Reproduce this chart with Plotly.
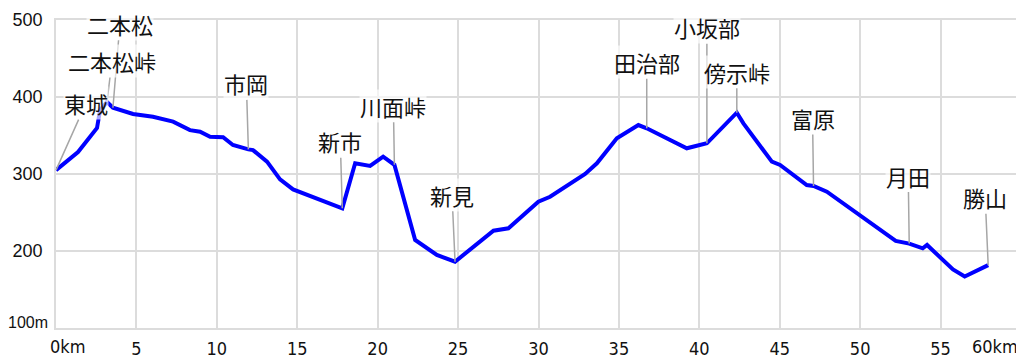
import plotly.graph_objects as go

# Elevation profile (distance km, elevation m)
dist_km = [0, 1.37, 2.55, 2.74, 3.17, 3.54, 4.79, 6.03, 7.28, 8.33, 8.96, 9.58,
           10.39, 11.0, 11.96, 12.25, 13.12, 13.93, 14.74, 15.98, 17.8, 18.6,
           19.53, 20.34, 21.04, 22.33, 23.68, 24.81, 27.2, 28.13, 29.99, 30.72,
           32.9, 33.63, 34.87, 36.21, 36.73, 39.22, 40.47, 42.33, 42.74, 44.51,
           45.02, 46.68, 47.1, 47.93, 52.21, 53.05, 53.89, 54.16, 55.77, 56.5,
           57.13, 57.96]
elev_m = [305, 328.6, 359.7, 383, 393.5, 386, 377.9, 374.4, 368, 357, 355, 348.4,
          347.7, 337.7, 332, 331, 316, 293, 280, 270.5, 255.5, 313.9,
          310.4, 322.5, 312, 214.3, 194.8, 186.1, 226.4, 229.5, 264, 270.5,
          300, 313.9, 346.4, 363.6, 359.4, 333.4, 339.9, 379.6, 365.8, 316,
          311.7, 285.7, 284.4, 277, 213, 209.6, 203.5, 207.8, 176, 166.8,
          172.9, 181.6]

# Place names and their points on the profile
place_names = ["二本松", "二本松峠", "東城", "市岡", "新市", "川面峠", "新見",
               "田治部", "小坂部", "傍示峠", "富原", "月田", "勝山"]
place_km = [3.54, 3.17, 0, 11.96, 17.8, 21.04, 24.81, 36.73, 40.47, 42.33,
            47.1, 53.05, 57.96]
place_elev = [386, 393.5, 305, 332, 255.5, 312, 186.1, 359.4, 339.9, 379.6,
              284.4, 209.6, 181.6]

x_tickvals = [5, 10, 15, 20, 25, 30, 35, 40, 45, 50, 55]
x_ticktext = ["5", "10", "15", "20", "25", "30", "35", "40", "45", "50", "55"]
y_tickvals = [200, 300, 400, 500]
y_ticktext = ["200", "300", "400", "500"]

# label offsets in pixels (layout only)
label_dx = [7, 5, 30, -2, -2, -1, -3, 0, 0, 0, -1, -1, -3]
label_dy = [-84, -41, -67, -66, -67, -59, -67, -66, -116, -41, -68, -68, -68]

GRID = "#dcdcdc"
NARROW = "DejaVu Sans Condensed, Liberation Sans Narrow, sans-serif"

fig = go.Figure()
fig.add_trace(go.Scatter(x=dist_km, y=elev_m, mode="lines",
                         line=dict(color="#0000ff", width=4),
                         hoverinfo="skip", showlegend=False))

annotations = []
for name, xk, ye, dx, dy in zip(place_names, place_km, place_elev, label_dx, label_dy):
    annotations.append(dict(
        x=xk, y=ye, xref="x", yref="y", text=name, showarrow=True,
        arrowhead=0, arrowwidth=1.5, arrowcolor="#a6a6a6", standoff=0,
        ax=dx, ay=dy, bgcolor="rgba(255,255,255,0.65)", borderpad=0,
        font=dict(family="Noto Sans CJK JP", size=22, color="#111111")))

# axis end labels
annotations.append(dict(x=0, y=0, xref="x", yref="paper", text="0km",
                        showarrow=False, xanchor="left", yanchor="top",
                        xshift=-8, yshift=-6,
                        font=dict(family=NARROW, size=18, color="#111111")))
annotations.append(dict(x=60, y=0, xref="x", yref="paper", text="60km",
                        showarrow=False, xanchor="right", yanchor="top",
                        xshift=-1, yshift=-6,
                        font=dict(family=NARROW, size=18, color="#111111")))
annotations.append(dict(x=0, y=100, xref="paper", yref="y", text="100m",
                        showarrow=False, xanchor="right", yanchor="middle",
                        xshift=-6, yshift=6,
                        font=dict(family="Liberation Sans, Arial, sans-serif",
                                  size=16, color="#111111")))

# the page body adds an 8px margin, so the figure is 8px smaller each way
fig.update_layout(
    width=1016, height=354,
    margin=dict(l=48, r=3, t=12, b=34, autoexpand=False),
    paper_bgcolor="white", plot_bgcolor="white",
    annotations=annotations,
    xaxis=dict(range=[0, 60], tickvals=x_tickvals, ticktext=x_ticktext,
               automargin=False,
               showgrid=True, gridcolor=GRID, gridwidth=1.5,
               showline=True, linecolor=GRID, linewidth=1.5, mirror=True,
               zeroline=False, ticks="", ticklabelstandoff=4,
               tickfont=dict(family=NARROW, size=18, color="#111111")),
    yaxis=dict(range=[100, 500], tickvals=y_tickvals, ticktext=y_ticktext,
               automargin=False,
               showgrid=True, gridcolor=GRID, gridwidth=1.5,
               showline=True, linecolor=GRID, linewidth=1.5, mirror=True,
               zeroline=False, ticks="", ticklabelstandoff=8,
               tickfont=dict(family="Liberation Sans, Arial, sans-serif", size=18,
                             color="#111111")),
)

fig.write_html("out.html")
